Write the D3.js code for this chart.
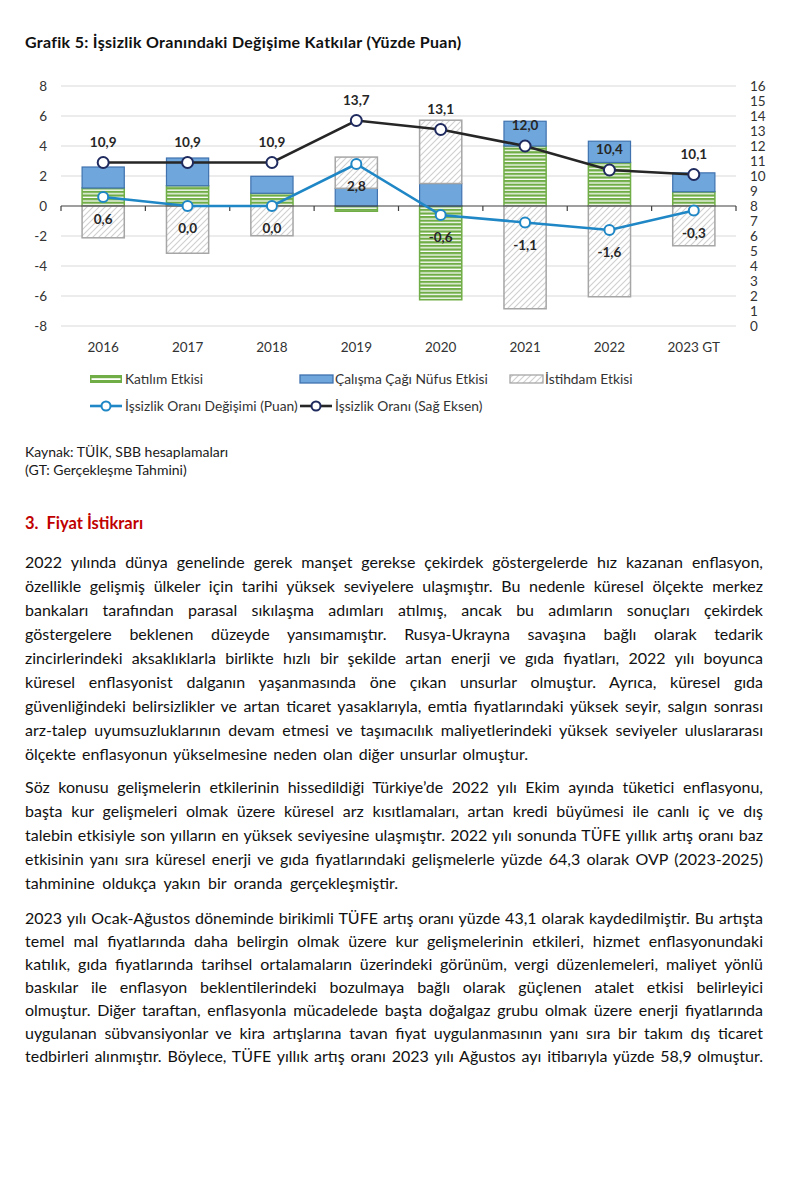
<!DOCTYPE html>
<html><head><meta charset="utf-8">
<script src="https://cdn.jsdelivr.net/npm/d3@7"></script>
<style>
html,body{margin:0;padding:0;background:#fff;}
svg{display:block;font-family:Lato,"Open Sans",sans-serif;}
</style></head>
<body>
<svg id="page" width="787" height="1188"></svg>
<script>
// ---------- DATA ----------
const categories = ["2016","2017","2018","2019","2020","2021","2022","2023 GT"];
const katilim  = [1.2, 1.35, 0.85, -0.35, -6.25, 4.0, 2.9, 0.95];   // Katılım Etkisi
const calisma  = [1.4, 1.85, 1.13, 1.18, 1.5, 1.65, 1.42, 1.26];    // Çalışma Çağı Nüfus Etkisi
const istihdam = [-2.12, -3.15, -1.98, 2.08, 4.22, -6.85, -6.05, -2.65]; // İstihdam Etkisi
const degisim  = [0.6, 0.0, 0.0, 2.8, -0.6, -1.1, -1.6, -0.3];      // İşsizlik Oranı Değişimi (Puan)
const oran     = [10.9, 10.9, 10.9, 13.7, 13.1, 12.0, 10.4, 10.1];  // İşsizlik Oranı (Sağ Eksen)
const leftTicks  = [-8, -6, -4, -2, 0, 2, 4, 6, 8];
const rightTicks = [0, 1, 2, 3, 4, 5, 6, 7, 8, 9, 10, 11, 12, 13, 14, 15, 16];
const seriesNames = ["Katılım Etkisi", "Çalışma Çağı Nüfus Etkisi", "İstihdam Etkisi"];
const lineNames = ["İşsizlik Oranı Değişimi (Puan)", "İşsizlik Oranı (Sağ Eksen)"];

const title = "Grafik 5: İşsizlik Oranındaki Değişime Katkılar (Yüzde Puan)";
const sourceLines = ["Kaynak: TÜİK, SBB hesaplamaları", "(GT: Gerçekleşme Tahmini)"];
const heading = "3.  Fiyat İstikrarı";
const para1 = [
 "2022 yılında dünya genelinde gerek manşet gerekse çekirdek göstergelerde hız kazanan enflasyon,",
 "özellikle gelişmiş ülkeler için tarihi yüksek seviyelere ulaşmıştır. Bu nedenle küresel ölçekte merkez",
 "bankaları tarafından parasal sıkılaşma adımları atılmış, ancak bu adımların sonuçları çekirdek",
 "göstergelere beklenen düzeyde yansımamıştır. Rusya-Ukrayna savaşına bağlı olarak tedarik",
 "zincirlerindeki aksaklıklarla birlikte hızlı bir şekilde artan enerji ve gıda fiyatları, 2022 yılı boyunca",
 "küresel enflasyonist dalganın yaşanmasında öne çıkan unsurlar olmuştur. Ayrıca, küresel gıda",
 "güvenliğindeki belirsizlikler ve artan ticaret yasaklarıyla, emtia fiyatlarındaki yüksek seyir, salgın sonrası",
 "arz-talep uyumsuzluklarının devam etmesi ve taşımacılık maliyetlerindeki yüksek seviyeler uluslararası",
 "ölçekte enflasyonun yükselmesine neden olan diğer unsurlar olmuştur."
];
const para2 = [
 "Söz konusu gelişmelerin etkilerinin hissedildiği Türkiye’de 2022 yılı Ekim ayında tüketici enflasyonu,",
 "başta kur gelişmeleri olmak üzere küresel arz kısıtlamaları, artan kredi büyümesi ile canlı iç ve dış",
 "talebin etkisiyle son yılların en yüksek seviyesine ulaşmıştır. 2022 yılı sonunda TÜFE yıllık artış oranı baz",
 "etkisinin yanı sıra küresel enerji ve gıda fiyatlarındaki gelişmelerle yüzde 64,3 olarak OVP (2023-2025)",
 "tahminine oldukça yakın bir oranda gerçekleşmiştir."
];
const para3 = [
 "2023 yılı Ocak-Ağustos döneminde birikimli TÜFE artış oranı yüzde 43,1 olarak kaydedilmiştir. Bu artışta",
 "temel mal fiyatlarında daha belirgin olmak üzere kur gelişmelerinin etkileri, hizmet enflasyonundaki",
 "katılık, gıda fiyatlarında tarihsel ortalamaların üzerindeki görünüm, vergi düzenlemeleri, maliyet yönlü",
 "baskılar ile enflasyon beklentilerindeki bozulmaya bağlı olarak güçlenen atalet etkisi belirleyici",
 "olmuştur. Diğer taraftan, enflasyonla mücadelede başta doğalgaz grubu olmak üzere enerji fiyatlarında",
 "uygulanan sübvansiyonlar ve kira artışlarına tavan fiyat uygulanmasının yanı sıra bir takım dış ticaret",
 "tedbirleri alınmıştır. Böylece, TÜFE yıllık artış oranı 2023 yılı Ağustos ayı itibarıyla yüzde 58,9 olmuştur."
];

// ---------- SETUP ----------
const svg = d3.select("#page");
svg.append("rect").attr("width",787).attr("height",1188).attr("fill","#fff");
const loc = d3.formatLocale({decimal:",", thousands:".", grouping:[3], currency:["",""], minus:"-"});
const f1 = loc.format(".1f");
const fInt = loc.format("d");

const defs = svg.append("defs");
const pg = defs.append("pattern").attr("id","pGreen").attr("patternUnits","userSpaceOnUse")
  .attr("width",8).attr("height",3.6);
pg.append("rect").attr("width",8).attr("height",3.6).attr("fill","#70AD47");
pg.append("rect").attr("y",2.3).attr("width",8).attr("height",1.3).attr("fill","#fff");
const ph = defs.append("pattern").attr("id","pHatch").attr("patternUnits","userSpaceOnUse")
  .attr("width",6).attr("height",6);
ph.append("rect").attr("width",6).attr("height",6).attr("fill","#fff");
ph.append("path").attr("d","M-1,7 L7,-1 M-4,4 L4,-4 M2,10 L10,2").attr("stroke","#CFCFCF").attr("stroke-width",1.1);

const fills = ["url(#pGreen)", "#6FA6DB", "url(#pHatch)"];
const strokes = ["#70AD47", "#3F72AF", "#A6A6A6"];

// ---------- SCALES ----------
const x = d3.scaleBand().domain(categories).range([61, 736]).paddingInner(0.5).paddingOuter(0.25);
const yL = d3.scaleLinear().domain([-8, 8]).range([326, 86]);
const yR = d3.scaleLinear().domain([0, 16]).range([326, 86]);
const cx = c => x(c) + x.bandwidth()/2;

// ---------- TITLE ----------
const titleEl = svg.append("text")
  .attr("x",25).attr("y",48).attr("font-size",16).attr("font-weight","bold").attr("fill","#111")
  .text(title);

// ---------- GRID ----------
const g = svg.append("g");
g.append("g").selectAll("line").data(leftTicks.filter(d => d !== 0)).join("line")
  .attr("x1",61).attr("x2",736).attr("y1",d=>yL(d)).attr("y2",d=>yL(d))
  .attr("stroke","#D9D9D9").attr("stroke-width",1);

const axL = g.append("g").attr("transform","translate(53,0)")
  .call(d3.axisLeft(yL).tickValues(leftTicks).tickSize(0).tickPadding(0).tickFormat(fInt));
axL.select(".domain").remove();
axL.selectAll("text").attr("font-family","Lato, sans-serif").attr("font-size",13.5).attr("fill","#333").attr("x",-6);
const axR = g.append("g").attr("transform","translate(750,0)")
  .call(d3.axisRight(yR).tickValues(rightTicks).tickSize(0).tickPadding(0).tickFormat(fInt));
axR.select(".domain").remove();
axR.selectAll("text").attr("font-family","Lato, sans-serif").attr("font-size",13.5).attr("fill","#333");

// ---------- BARS ----------
const rows = categories.map((c,i) => ({cat:c, k:katilim[i], c2:calisma[i], s:istihdam[i]}));
const stack = d3.stack().keys(["k","c2","s"]).offset(d3.stackOffsetDiverging)(rows);
const bars = g.append("g");
stack.forEach((layer, li) => {
  bars.append("g").selectAll("rect").data(layer).join("rect")
    .attr("x", d => x(d.data.cat))
    .attr("width", x.bandwidth())
    .attr("y", d => yL(Math.max(d[0], d[1])))
    .attr("height", d => Math.abs(yL(d[0]) - yL(d[1])))
    .attr("fill", fills[li])
    .attr("stroke", strokes[li]).attr("stroke-width", li===1?1.2:1.5);
});

g.append("line").attr("x1",61).attr("x2",736).attr("y1",yL(0)).attr("y2",yL(0)).attr("stroke","#404040").attr("stroke-width",1.2);
const bounds = categories.map(c => x(c) - x.step()*x.paddingInner()/2).concat([736]);
g.append("g").selectAll("line").data(bounds).join("line")
  .attr("x1",d=>d).attr("x2",d=>d).attr("y1",yL(0)).attr("y2",yL(0)+5)
  .attr("stroke","#404040").attr("stroke-width",1.2);

g.append("g").selectAll("text").data(categories).join("text")
  .attr("x", d => cx(d)).attr("y", 352).attr("text-anchor","middle")
  .attr("font-size",13.5).attr("fill","#333").text(d => d);

// ---------- LINES ----------
const lineChange = d3.line().x((d,i)=>cx(categories[i])).y(d=>yL(d));
const lineRate = d3.line().x((d,i)=>cx(categories[i])).y(d=>yR(d));
g.append("path").datum(degisim).attr("d",lineChange).attr("fill","none").attr("stroke","#1F87C5").attr("stroke-width",2.6);
g.append("g").selectAll("circle").data(degisim).join("circle")
  .attr("cx",(d,i)=>cx(categories[i])).attr("cy",d=>yL(d)).attr("r",5)
  .attr("fill","#fff").attr("stroke","#1F87C5").attr("stroke-width",2);
g.append("path").datum(oran).attr("d",lineRate).attr("fill","none").attr("stroke","#262626").attr("stroke-width",2.6);
g.append("g").selectAll("circle").data(oran).join("circle")
  .attr("cx",(d,i)=>cx(categories[i])).attr("cy",d=>yR(d)).attr("r",5.5)
  .attr("fill","#fff").attr("stroke","#1F2A5E").attr("stroke-width",2);

g.append("g").selectAll("text").data(degisim).join("text")
  .attr("x",(d,i)=>cx(categories[i])).attr("y",d=>yL(d)+27).attr("text-anchor","middle")
  .attr("font-size",13.5).attr("font-weight","bold").attr("fill","#262626").text(d=>f1(d));
g.append("g").selectAll("text").data(oran).join("text")
  .attr("x",(d,i)=>cx(categories[i])).attr("y",d=>yR(d)-16).attr("text-anchor","middle")
  .attr("font-size",13.5).attr("font-weight","bold").attr("fill","#262626").text(d=>f1(d));

// ---------- LEGEND ----------
const leg = svg.append("g").attr("font-size",13.8).attr("fill","#333");
const legX = [90, 300, 510];
seriesNames.forEach((n,i) => {
  const lx = legX[i];
  if (i===0) {
    leg.append("rect").attr("x",lx).attr("y",375).attr("width",32).attr("height",8).attr("fill","#70AD47");
    leg.append("rect").attr("x",lx+1.5).attr("y",378.2).attr("width",29).attr("height",1.8).attr("fill","#fff");
  } else {
    leg.append("rect").attr("x",lx).attr("y",375).attr("width",33).attr("height",8)
      .attr("fill",fills[i]).attr("stroke",strokes[i]).attr("stroke-width",1.3);
  }
  leg.append("text").attr("x",lx+35).attr("y",384).text(n);
});
const lineCols = [["#1F87C5","#1F87C5"],["#262626","#1F2A5E"]];
lineNames.forEach((n,i) => {
  const lx = legX[i];
  leg.append("line").attr("x1",lx).attr("x2",lx+32).attr("y1",406).attr("y2",406)
    .attr("stroke",lineCols[i][0]).attr("stroke-width",2.6);
  leg.append("circle").attr("cx",lx+16).attr("cy",406).attr("r",4.5)
    .attr("fill","#fff").attr("stroke",lineCols[i][1]).attr("stroke-width",2);
  leg.append("text").attr("x",lx+35).attr("y",411).text(n);
});

// ---------- SOURCE ----------
svg.append("g").selectAll("text").data(sourceLines).join("text")
  .attr("x",25).attr("y",(d,i)=>457+i*18).attr("font-size",14).attr("fill","#1a1a1a").text(d=>d);

// ---------- HEADING ----------
svg.append("text").attr("x",25).attr("y",529).attr("font-size",16.5).attr("font-weight","bold")
  .attr("fill","#C00000").style("white-space","pre").text(heading);

// ---------- BODY ----------
function addPara(lines, y0, step, lastW) {
  lines.forEach((t,i) => {
    svg.append("text").attr("class","fitme").attr("data-w", i===lines.length-1 ? lastW : 738)
      .attr("x",25).attr("y",y0 + i*step).attr("font-size",16).attr("fill","#111").text(t);
  });
}
addPara(para1, 568, 24, 503);
addPara(para2, 793, 24, 373);
addPara(para3, 924, 23, 738);

svg.selectAll("text.fitme").each(function(){
  const el = d3.select(this);
  const target = +el.attr("data-w");
  const n = this.getComputedTextLength();
  const txt = this.textContent;
  const spaces = (txt.match(/ /g)||[]).length;
  const diff = target - n;
  if (diff >= 0 && spaces > 0) {
    el.attr("word-spacing", diff/spaces);
  } else {
    el.attr("textLength", target).attr("lengthAdjust","spacing");
  }
});
// title: distribute across letters
(function(){
  const n = titleEl.node().getComputedTextLength();
  const len = title.length;
  titleEl.attr("letter-spacing", (436 - n)/(len-1));
})();
</script>
</body></html>
